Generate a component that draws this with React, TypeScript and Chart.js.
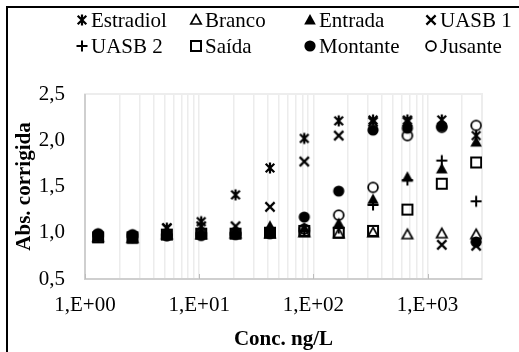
import React, { useEffect, useRef } from "react";
import { Chart, registerables } from "chart.js";

Chart.register(...registerables);

// ---- data ----
const CONC = [1.302, 2.604, 5.208, 10.42, 20.83, 41.67, 83.33, 166.7, 333.3, 666.7, 1333.3, 2666.7];

const ESTRADIOL = [0.97, 0.96, 1.05, 1.12, 1.41, 1.7, 2.02, 2.21, 2.22, 2.22, 2.22, 2.05];
const BRANCO = [0.95, 0.94, 0.98, 0.98, 0.99, 0.99, 1.0, 0.99, 1.0, 0.98, 0.99, 0.98];
const ENTRADA = [0.95, 0.93, 0.99, 1.0, 1.02, 1.07, 1.05, 1.1, 1.36, 1.6, 1.69, 1.98];
const UASB1 = [0.97, 0.96, 1.05, 1.07, 1.07, 1.28, 1.77, 2.05, 2.2, 2.2, 0.87, 0.86];
const UASB2 = [0.96, 0.95, 0.98, 1.0, 1.0, 1.0, 1.02, 1.05, 1.3, 1.57, 1.78, 1.34];
const SAIDA = [0.95, 0.95, 0.98, 0.99, 0.99, 1.0, 1.02, 1.0, 1.02, 1.25, 1.53, 1.76];
const MONTANTE = [0.99, 0.98, 0.97, 0.97, 0.98, 0.99, 1.17, 1.45, 2.11, 2.13, 2.15, 0.9];
const JUSANTE = [0.98, 0.97, 0.97, 0.98, 0.99, 1.0, 1.04, 1.19, 1.49, 2.05, 2.14, 2.16];

const SERIES_NAMES = ["Estradiol", "Branco", "Entrada", "UASB 1", "UASB 2", "Saída", "Montante", "Jusante"];
const SERIES_VALUES = [ESTRADIOL, BRANCO, ENTRADA, UASB1, UASB2, SAIDA, MONTANTE, JUSANTE];
const SERIES_MARKERS = ["star", "triangleOpen", "triangle", "crossRot", "cross", "rectOpen", "circle", "circleOpen"];

const X_TICK_VALUES = [1, 10, 100, 1000];
const X_TICK_LABELS = ["1,E+00", "1,E+01", "1,E+02", "1,E+03"];
const X_MIN = 1;
const X_MAX = 3000;
const Y_TICK_LABELS = ["0,5", "1,0", "1,5", "2,0", "2,5"];
const Y_MIN = 0.5;
const Y_MAX = 2.5;
const Y_STEP = 0.5;

const X_TITLE = "Conc. ng/L";
const Y_TITLE = "Abs. corrigida";

// ---- styling / layout ----
const FONT = "'Liberation Serif', 'Times New Roman', serif";
const FS = 21;
const W = 519;
const H = 352;
const LEGEND_COL_X = [82, 196, 310, 431];
const LEGEND_ROW_Y = [20, 46];

function makeMarker(kind: string): HTMLCanvasElement {
  const S = 16;
  const c = document.createElement("canvas");
  c.width = S;
  c.height = S;
  const g = c.getContext("2d")!;
  const m = S / 2;
  g.strokeStyle = "#000";
  g.fillStyle = "#000";
  g.lineWidth = 2.2;
  g.lineCap = "butt";
  g.beginPath();
  switch (kind) {
    case "star": {
      const d = 4.3;
      g.moveTo(m - d, m - d); g.lineTo(m + d, m + d);
      g.moveTo(m + d, m - d); g.lineTo(m - d, m + d);
      g.moveTo(m, m - 5.5); g.lineTo(m, m + 5.5);
      g.stroke();
      break;
    }
    case "crossRot": {
      const d = 4.6;
      g.moveTo(m - d, m - d); g.lineTo(m + d, m + d);
      g.moveTo(m + d, m - d); g.lineTo(m - d, m + d);
      g.stroke();
      break;
    }
    case "cross": {
      const d = 5.5;
      g.lineWidth = 2;
      g.moveTo(m - d, m); g.lineTo(m + d, m);
      g.moveTo(m, m - d); g.lineTo(m, m + d);
      g.stroke();
      break;
    }
    case "triangle":
    case "triangleOpen": {
      if (kind === "triangle") {
        g.moveTo(m, m - 6);
        g.lineTo(m + 5.8, m + 4.5);
        g.lineTo(m - 5.8, m + 4.5);
        g.closePath();
        g.fill();
      } else {
        g.moveTo(m, m - 5.3);
        g.lineTo(m + 5.2, m + 4);
        g.lineTo(m - 5.2, m + 4);
        g.closePath();
        g.lineWidth = 1.7;
        g.stroke();
      }
      break;
    }
    case "rectOpen": {
      g.lineWidth = 2;
      g.strokeRect(m - 5, m - 5, 10, 10);
      break;
    }
    case "circle":
    case "circleOpen": {
      if (kind === "circle") {
        g.arc(m, m, 5.6, 0, Math.PI * 2);
        g.fill();
      } else {
        g.lineWidth = 1.8;
        g.arc(m, m, 4.9, 0, Math.PI * 2);
        g.stroke();
      }
      break;
    }
  }
  return c;
}

export default function App() {
  const ref = useRef<HTMLCanvasElement | null>(null);

  useEffect(() => {
    if (!ref.current) return;
    const markers = SERIES_MARKERS.map(makeMarker);

    const gridValues: number[] = [];
    for (let d = 1; d <= 1000; d *= 10) {
      for (let k = 1; k <= 9; k++) {
        const v = k * d;
        if (v <= X_MAX) gridValues.push(v);
      }
    }

    const datasets = SERIES_NAMES.map((name, i) => ({
      label: name,
      data: CONC.map((x, j) => ({ x, y: SERIES_VALUES[i][j] })),
      showLine: false,
      pointStyle: markers[i] as any,
      pointRadius: 5,
      pointHoverRadius: 5,
      order: SERIES_NAMES.length - 1 - i,
    }));

    const framePlugin = {
      id: "frameLegend",
      beforeDatasetsDraw(chart: any) {
        const { ctx, chartArea: a } = chart;
        ctx.save();
        ctx.strokeStyle = "#ededed";
        ctx.lineWidth = 2;
        ctx.strokeRect(a.left, a.top, a.right - a.left, a.bottom - a.top);
        ctx.strokeStyle = "#cfcfcf";
        ctx.lineWidth = 2;
        ctx.beginPath();
        ctx.moveTo(a.left, a.top);
        ctx.lineTo(a.left, a.bottom);
        ctx.lineTo(a.right, a.bottom);
        ctx.stroke();
        const xs = chart.scales.x;
        ctx.lineWidth = 1;
        ctx.strokeStyle = "#bdbdbd";
        ctx.beginPath();
        X_TICK_VALUES.forEach((v) => {
          const px = Math.round(xs.getPixelForValue(v)) + 0.5;
          ctx.moveTo(px, a.bottom);
          ctx.lineTo(px, a.bottom - 5);
        });
        ctx.stroke();
        ctx.restore();
      },
      afterDraw(chart: any) {
        const ctx = chart.ctx;
        ctx.save();
        SERIES_NAMES.forEach((_name, i) => {
          const col = i % 4;
          const row = Math.floor(i / 4);
          const mk = markers[i];
          ctx.drawImage(mk, LEGEND_COL_X[col] - mk.width / 2, LEGEND_ROW_Y[row] - mk.height / 2);
        });
        ctx.restore();
      },
    };

    const chart = new Chart(ref.current, {
      type: "scatter",
      data: { datasets: datasets as any },
      options: {
        responsive: false,
        animation: false,
        events: [],
        layout: { padding: { top: 94, right: 37, left: 0, bottom: 0 } },
        plugins: {
          legend: { display: false },
          tooltip: { enabled: false },
          title: { display: false },
        },
        scales: {
          x: {
            type: "logarithmic",
            position: "bottom",
            min: X_MIN,
            max: X_MAX,
            afterBuildTicks: (scale: any) => {
              scale.ticks = gridValues.map((v) => ({ value: v }));
            },
            afterFit: (scale: any) => {
              scale.height = H - 279;
            },
            ticks: {
              autoSkip: false,
              maxRotation: 0,
              minRotation: 0,
              padding: 14,
              color: "#000",
              font: { family: FONT, size: FS },
              callback: (v: any) => {
                const k = X_TICK_VALUES.findIndex((t) => Math.abs(t - Number(v)) < 1e-6);
                return k >= 0 ? X_TICK_LABELS[k] : "";
              },
            },
            grid: { color: "#ececec", lineWidth: 1.5, drawTicks: false },
            border: { display: false },
            title: {
              display: true,
              text: X_TITLE,
              color: "#000",
              font: { family: FONT, size: FS, weight: "bold" },
              padding: { top: 0, bottom: 0 },
            },
          },
          y: {
            type: "linear",
            min: Y_MIN,
            max: Y_MAX,
            afterFit: (scale: any) => {
              scale.width = 85;
            },
            ticks: {
              stepSize: Y_STEP,
              padding: 20,
              color: "#000",
              font: { family: FONT, size: FS },
              callback: (_v: any, i: number) => Y_TICK_LABELS[i],
            },
            grid: { display: false, drawTicks: false },
            border: { display: false },
            title: {
              display: true,
              text: Y_TITLE,
              color: "#000",
              font: { family: FONT, size: FS, weight: "bold" },
              padding: { top: 12, bottom: 0 },
            },
          },
        },
      },
      plugins: [framePlugin as any],
    });
    return () => chart.destroy();
  }, []);

  return (
    <div style={{ position: "absolute", left: 0, top: 0, width: W, height: H, overflow: "hidden", background: "#fff" }}>
      <canvas ref={ref} width={W} height={H} style={{ position: "absolute", left: 0, top: 0, width: W, height: H }} />
      {SERIES_NAMES.map((name, i) => (
        <span
          key={name}
          style={{
            position: "absolute",
            left: LEGEND_COL_X[i % 4] + 9,
            top: LEGEND_ROW_Y[Math.floor(i / 4)] - 12,
            fontFamily: "'Liberation Serif', 'Times New Roman', serif",
            fontSize: FS,
            lineHeight: "24px",
            color: "#000",
            whiteSpace: "nowrap",
          }}
        >
          {name}
        </span>
      ))}
      <div
        style={{
          position: "absolute",
          left: 6,
          top: 6,
          width: W + 50,
          height: H + 50,
          border: "2px solid #000",
          pointerEvents: "none",
        }}
      />
    </div>
  );
}
